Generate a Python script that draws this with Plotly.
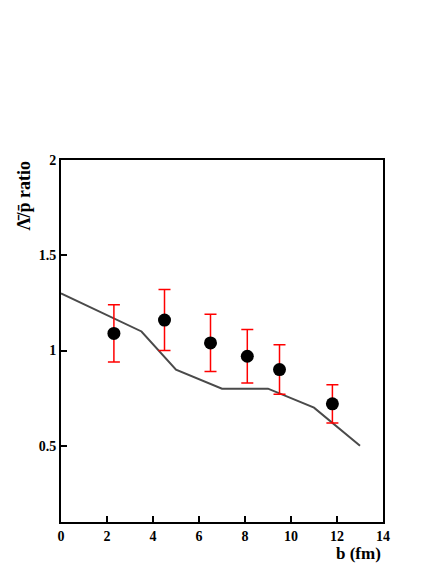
import plotly.graph_objects as go

# model curve
b_model = [0, 3.5, 5, 7, 9, 11, 13]
ratio_model = [1.3, 1.1, 0.9, 0.8, 0.8, 0.7, 0.5]

# data points with errors
b_data = [2.3, 4.5, 6.5, 8.1, 9.5, 11.8]
ratio_data = [1.09, 1.16, 1.04, 0.97, 0.90, 0.72]
ratio_err = [0.15, 0.16, 0.15, 0.14, 0.13, 0.10]

x_ticks = [0, 2, 4, 6, 8, 10, 12, 14]
y_ticks = [0.5, 1, 1.5, 2]
y_labels = ["0.5", "1", "1.5", "2"]

FONT = "Liberation Serif"

fig = go.Figure()

fig.add_trace(go.Scatter(
    x=b_model, y=ratio_model,
    mode="lines",
    line=dict(color="#4a4a4a", width=2),
    showlegend=False
))

fig.add_trace(go.Scatter(
    x=b_data, y=ratio_data,
    mode="markers",
    marker=dict(color="black", size=13),
    error_y=dict(type="data", array=ratio_err, color="red", thickness=1.5, width=6),
    showlegend=False
))

# the page body adds 8px around the plot, so the figure is shrunk by that much
fig.update_layout(
    width=428,
    height=556,
    margin=dict(l=53, r=53, t=152, b=42),
    plot_bgcolor="white",
    paper_bgcolor="white",
    font=dict(family=FONT, size=14, color="black"),
    xaxis=dict(
        range=[0, 14],
        tickvals=x_ticks,
        ticktext=["<b>%d</b>" % t for t in x_ticks],
        ticks="inside", ticklen=6, tickwidth=1.5, tickcolor="black",
        showline=True, linecolor="black", linewidth=2, mirror=True,
        showgrid=False, zeroline=False,
        tickfont=dict(family=FONT, size=14),
    ),
    yaxis=dict(
        range=[0.1, 2],
        tickvals=y_ticks,
        ticktext=["<b>%s</b>" % t for t in y_labels],
        ticks="inside", ticklen=6, tickwidth=1.5, tickcolor="black",
        showline=True, linecolor="black", linewidth=2, mirror=True,
        showgrid=False, zeroline=False,
        tickfont=dict(family=FONT, size=14),
    ),
    annotations=[
        dict(
            text="<b>b (fm)</b>", xref="paper", yref="paper",
            x=1.0, y=0, xanchor="right", yanchor="top", yshift=-20,
            showarrow=False, font=dict(family=FONT, size=17)
        ),
        dict(
            text="<b>\u039b\u0304/p\u0304 ratio</b>", xref="paper", yref="paper",
            x=0, y=1, xanchor="right", yanchor="top", xshift=-26,
            textangle=-90, showarrow=False, font=dict(family=FONT, size=18)
        ),
    ],
)

fig.write_html("out.html")
